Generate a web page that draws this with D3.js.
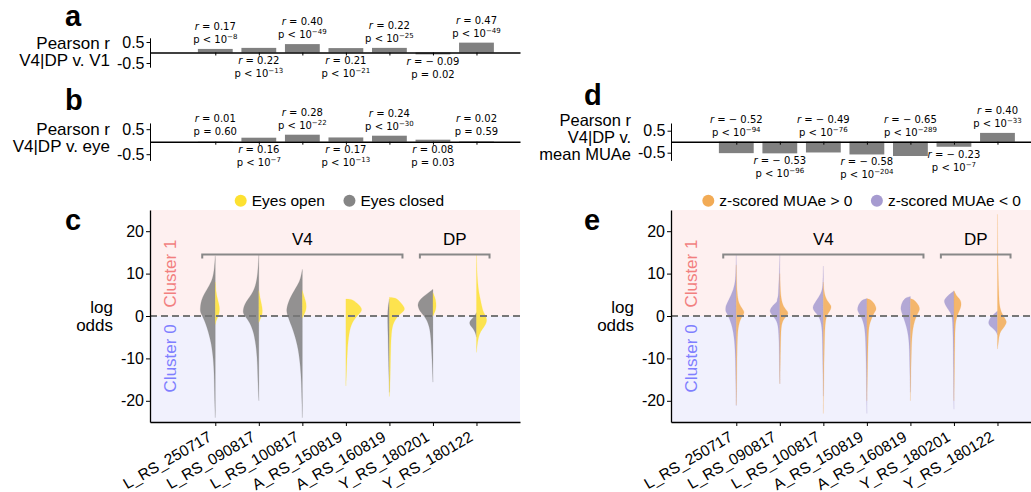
<!DOCTYPE html>
<html>
<head>
<meta charset="utf-8">
<script src="https://cdn.jsdelivr.net/npm/d3@7"></script>
<style>
body { margin: 0; background: #fff; }
svg text { font-family: "Liberation Sans", Arial, sans-serif; fill: #000; }
svg .barlab { font-family: "DejaVu Sans", sans-serif; font-size: 10px; }
</style>
</head>
<body>
<script>
// sessions on the x axis of every panel
var sessions = ["L_RS_250717", "L_RS_090817", "L_RS_100817", "A_RS_150819",
                "A_RS_160819", "Y_RS_180201", "Y_RS_180122"];

// Pearson r and p values for the three bar panels
var rV1  = [0.17, 0.22, 0.40, 0.21, 0.22, -0.09, 0.47];
var pV1  = ["<-8", "<-13", "<-49", "<-21", "<-25", "=0.02", "<-49"];
var rEye = [0.01, 0.16, 0.28, 0.17, 0.24, 0.08, 0.02];
var pEye = ["=0.60", "<-7", "<-22", "<-13", "<-30", "=0.03", "=0.59"];
var rMua = [-0.52, -0.53, -0.49, -0.58, -0.65, -0.23, 0.40];
var pMua = ["<-94", "<-96", "<-76", "<-204", "<-289", "<-7", "<-33"];

var barTicks = [0.5, -0.5];
var oddsTicks = [20, 10, 0, -10, -20];

// area groups shown with brackets
var areas = [{name: "V4", from: 0, to: 4}, {name: "DP", from: 5, to: 6}];

// violin halves: [log odds, relative density]
var eyesClosed = [
  [[14.2,0],[11,0.06],[9,0.16],[7.5,0.31],[4.3,0.86],[2,0.94],[1,0.94],[0.4,0.86],[-1.5,0.62],[-3.9,0.42],[-6.2,0.27],[-8.6,0.17],[-11.8,0.09],[-15.6,0.06],[-20,0.04],[-24,0]],
  [[14.5,0],[10,0.06],[7,0.2],[5.1,0.44],[2.8,0.92],[1.2,0.98],[0.8,0.98],[0,0.88],[-1.5,0.56],[-3.9,0.31],[-7.8,0.14],[-11.8,0.08],[-16.5,0.05],[-20,0]],
  [[11,0],[9,0.1],[7.5,0.25],[4.4,0.77],[2,0.98],[1,0.98],[0,0.92],[-2.4,0.67],[-4.7,0.46],[-7.8,0.25],[-11.8,0.12],[-15.6,0.06],[-20,0.03],[-24,0]],
  [],
  [[4,0],[2,0.09],[0,0.12],[-4,0.09],[-10,0.06],[-18,0]],
  [[6.3,0],[5.1,0.42],[3.9,0.83],[2.8,0.94],[2.4,0.94],[1.2,0.83],[0.8,0.73],[-0.4,0.46],[-2.4,0.21],[-5.5,0.12],[-8.6,0.08],[-11.8,0.04],[-15.6,0]],
  [[0.8,0],[0,0.12],[-0.8,0.31],[-1.5,0.46],[-2.3,0.38],[-3,0.19],[-4,0.06],[-5,0]]
];
var eyesOpen = [
  [[8,0],[5,0.06],[3,0.22],[1.5,0.29],[0,0.19],[-1,0.06],[-2,0]],
  [[6,0],[4,0.09],[2,0.22],[0.5,0.23],[-0.5,0.12],[-1.5,0]],
  [[6,0],[4.5,0.12],[3,0.25],[1.5,0.25],[0.5,0.12],[-0.5,0]],
  [[4,0],[3.95,0.44],[3,0.69],[2,0.98],[1.2,1.0],[0.3,0.78],[-1.5,0.37],[-4,0.19],[-8,0.09],[-12,0.05],[-16.5,0]],
  [[4.4,0],[4.35,0.4],[3.2,0.7],[2,0.96],[1.2,0.94],[0.4,0.62],[-1.5,0.23],[-3.9,0.12],[-7.8,0.08],[-11.8,0.06],[-16.5,0.04],[-19,0]],
  [[5.5,0],[4.5,0.12],[3,0.21],[1.5,0.19],[0.5,0.06],[0,0]],
  [[14.5,0],[7.5,0.06],[4.4,0.21],[2.4,0.33],[1.2,0.4],[0.4,0.52],[-0.8,0.67],[-2,0.58],[-3.1,0.36],[-4.3,0.17],[-6.2,0.06],[-8.6,0]]
];
var muaNeg = [
  [[14.5,0],[10,0.03],[7.5,0.08],[5.1,0.29],[2.8,0.61],[2,0.67],[1.2,0.67],[0.8,0.62],[-0.3,0.46],[-2.4,0.25],[-5.5,0.11],[-10.2,0.05],[-15.6,0.03],[-21.2,0]],
  [[14.5,0],[10,0.03],[6.7,0.08],[4.4,0.1],[3.9,0.18],[3.4,0.15],[2.8,0.36],[1.6,0.62],[0.8,0.62],[-0.3,0.36],[-1.5,0.14],[-3.9,0.06],[-10,0.03],[-16,0]],
  [[11.8,0],[8,0.03],[5.9,0.06],[3.9,0.38],[2.4,0.66],[1.6,0.65],[0.8,0.5],[-0.3,0.23],[-2.4,0.09],[-5.5,0.06],[-12,0.03],[-18.9,0]],
  [[4.1,0],[3.9,0.2],[3.5,0.39],[2.4,0.56],[1.4,0.6],[0.8,0.52],[-0.3,0.33],[-2.4,0.14],[-5.5,0.08],[-11.8,0.04],[-23,0]],
  [[4.6,0],[4.4,0.29],[3.2,0.54],[2,0.6],[1.6,0.6],[0.8,0.54],[-0.8,0.39],[-2.4,0.25],[-4.7,0.12],[-7.8,0.06],[-12,0.04],[-18,0]],
  [[5.9,0],[4.7,0.42],[3.9,0.58],[3.5,0.62],[2.4,0.52],[0.8,0.21],[-0.3,0.1],[-3.9,0.06],[-12,0.03],[-22,0]],
  [[1.2,0],[0.4,0.23],[-0.8,0.54],[-2,0.58],[-2.8,0.33],[-3.6,0.09],[-4.5,0]]
];
var muaPos = [
  [[12,0],[5,0.04],[2.8,0.17],[1.5,0.42],[0.8,0.52],[0,0.38],[-1.5,0.17],[-3.9,0.08],[-7.8,0.05],[-15,0.03],[-21,0]],
  [[10,0],[4,0.05],[2,0.25],[1.2,0.48],[0.4,0.54],[-0.3,0.33],[-1.5,0.12],[-3.9,0.06],[-10,0.03],[-16,0]],
  [[8,0],[5,0.06],[3.5,0.25],[2.4,0.52],[1.6,0.46],[0.9,0.36],[0.4,0.25],[-0.8,0.14],[-3.9,0.08],[-11.8,0.04],[-23,0]],
  [[4.1,0],[3.9,0.25],[3.1,0.44],[1.6,0.64],[0.8,0.44],[-0.8,0.27],[-2.4,0.12],[-5.5,0.08],[-12,0.04],[-20,0]],
  [[4.1,0],[3.9,0.2],[3.2,0.38],[2.4,0.54],[1.6,0.58],[1.2,0.54],[0,0.38],[-1.5,0.23],[-3.9,0.11],[-7.8,0.06],[-14,0.03],[-20,0]],
  [[6,0],[4.4,0.21],[3.9,0.42],[2.4,0.48],[0.9,0.3],[-0.8,0.11],[-3.9,0.06],[-12,0.03],[-20,0]],
  [[24,0],[14,0.02],[5.1,0.08],[2.4,0.13],[1.6,0.19],[0.8,0.25],[-0.8,0.5],[-1.5,0.6],[-2.8,0.39],[-3.9,0.12],[-6.2,0.06],[-7.8,0]]
];

var svg = d3.select("body").append("svg")
    .attr("width", 1031)
    .attr("height", 492);

var hyphen = function(d){ return String(d).replace("\u2212", "-"); };

// panel letter
function letter(ch, x, y){
    svg.append("text").attr("x", x).attr("y", y)
        .style("font-size", "29px").style("font-weight", "bold")
        .text(ch);
}

// right aligned multi-line axis title
function sideTitle(lines, x, y0, step, size){
    lines.forEach(function(s, i){
        svg.append("text").attr("x", x).attr("y", y0 + i*step)
            .attr("text-anchor", "end").style("font-size", (size || 17) + "px").text(s);
    });
}

function barPanel(o){
    var x = d3.scaleLinear().domain([-1.5, 7]).range([o.left, o.left + 370]);
    var y = d3.scaleLinear().domain([-o.ext, o.ext])
        .range([o.zero + o.ext*o.unit, o.zero - o.ext*o.unit]);
    var g = svg.append("g");

    g.selectAll(".bar").data(o.r).enter().append("rect")
        .attr("class", "bar")
        .attr("x", function(d, i){ return x(i - 0.4); })
        .attr("width", x(0.4) - x(-0.4))
        .attr("y", function(d){ return y(Math.max(d, 0)); })
        .attr("height", function(d){ return Math.abs(y(d) - y(0)); })
        .style("fill", "#808080");

    // zero line with category ticks
    var xa = g.append("g").attr("transform", "translate(0," + y(0) + ")")
        .call(d3.axisBottom(x).tickValues(d3.range(sessions.length))
            .tickSize(3).tickSizeOuter(0).tickFormat(""));
    xa.select(".domain").style("stroke-width", 1.4);

    var ya = g.append("g").attr("transform", "translate(" + o.left + ",0)")
        .call(d3.axisLeft(y).tickValues(barTicks).tickSize(3.5).tickSizeOuter(0)
            .tickPadding(2).tickFormat(function(d){ return hyphen(d3.format(".1f")(d)); }));
    ya.selectAll("text").style("font-size", "16px");

    // r / p annotations, alternating above and below
    o.r.forEach(function(d, i){
        var above = i % 2 === 0, rb, pb;
        if (above) { pb = y(Math.max(d, 0)) - 6; rb = pb - 13; }
        else { rb = y(Math.min(d, 0)) + 11; pb = rb + 13; }
        var t1 = g.append("text").attr("class", "barlab")
            .attr("x", x(i)).attr("y", rb).attr("text-anchor", "middle");
        t1.append("tspan").style("font-style", "italic").text("r");
        t1.append("tspan").text(" = " + (d < 0 ? "\u2212 " + d3.format(".2f")(-d) : d3.format(".2f")(d)));
        var p = o.p[i];
        var t2 = g.append("text").attr("class", "barlab")
            .attr("x", x(i)).attr("y", pb).attr("text-anchor", "middle");
        if (p[0] === "<") {
            t2.append("tspan").text("p < 10");
            t2.append("tspan").attr("dy", -4).style("font-size", "7px")
                .text("\u2212" + p.slice(2));
        } else {
            t2.text("p = " + p.slice(1));
        }
    });
}

function violinPanel(o){
    var x = d3.scaleLinear().domain([-1.5, 7]).range([o.left, o.left + 370]);
    var y = d3.scaleLinear().domain([-25, 25]).range([422, 210]);
    var w = d3.scaleLinear().domain([0, 1]).range([0, 16]);
    var g = svg.append("g");

    g.append("rect").attr("x", x(-1.5)).attr("width", x(7) - x(-1.5))
        .attr("y", y(25)).attr("height", y(0) - y(25)).style("fill", "#fef0f0");
    g.append("rect").attr("x", x(-1.5)).attr("width", x(7) - x(-1.5))
        .attr("y", y(0)).attr("height", y(-25) - y(0)).style("fill", "#f1f1fd");

    g.append("text").attr("transform", "translate(" + (o.left + 20.5) + "," + y(10) + ") rotate(-90)")
        .attr("text-anchor", "middle").attr("dominant-baseline", "central")
        .style("font-size", "17px").style("fill", "#f27f7f").text("Cluster 1");
    g.append("text").attr("transform", "translate(" + (o.left + 20.5) + "," + y(-10) + ") rotate(-90)")
        .attr("text-anchor", "middle").attr("dominant-baseline", "central")
        .style("font-size", "17px").style("fill", "#7f7fff").text("Cluster 0");

    // split violins
    sessions.forEach(function(s, i){
        var cx = x(i);
        [[o.leftData[i], -1, o.leftColor], [o.rightData[i], 1, o.rightColor]].forEach(function(h){
            if (!h[0].length) return;
            var area = d3.area().curve(d3.curveBasis)
                .y(function(d){ return y(d[0]); })
                .x0(cx)
                .x1(function(d){ return cx + h[1]*w(d[1]); });
            g.append("path").attr("d", area(h[0]))
                .style("fill", h[2]).style("fill-opacity", 0.85)
                .style("stroke", h[2]).style("stroke-width", 0.35).style("stroke-opacity", 0.5);
        });
    });

    g.append("line").attr("x1", x(-1.5)).attr("x2", x(7)).attr("y1", y(0)).attr("y2", y(0))
        .style("stroke", "#777").style("stroke-width", 2).style("stroke-dasharray", "7,4");

    // area brackets
    areas.forEach(function(a){
        var x0 = x(a.from - 0.3), x1 = x(a.to + 0.3), yb = y(14.5);
        g.append("path").attr("d", "M" + x0 + "," + (yb + 4) + "V" + yb + "H" + x1 + "V" + (yb + 4))
            .style("fill", "none").style("stroke", "#888").style("stroke-width", 2);
        g.append("text").attr("x", (x0 + x1)/2).attr("y", yb - 9.5)
            .attr("text-anchor", "middle").style("font-size", "17px").text(a.name);
    });

    var ya = g.append("g").attr("transform", "translate(" + o.left + ",0)")
        .call(d3.axisLeft(y).tickValues(oddsTicks).tickSize(4).tickSizeOuter(0)
            .tickPadding(2).tickFormat(function(d){ return hyphen(d3.format("d")(d)); }));
    ya.selectAll("text").style("font-size", "16px");
    ya.select(".domain").style("stroke-width", 1.3);

    var xa = g.append("g").attr("transform", "translate(0," + y(-25) + ")")
        .call(d3.axisBottom(x).tickValues(d3.range(sessions.length)).tickSize(4)
            .tickSizeOuter(0).tickFormat(function(d){ return sessions[d]; }));
    xa.select(".domain").style("stroke-width", 1.3);
    xa.selectAll("text")
        .attr("y", 0).attr("dy", 0)
        .attr("transform", "translate(-3,18) rotate(-30)")
        .attr("text-anchor", "end")
        .style("font-size", "15.5px");

    sideTitle(["log", "odds"], o.left - 37, 313, 17.5);

    // legend
    var lx = o.left + o.legendX;
    o.legend.forEach(function(item){
        g.append("circle").attr("cx", lx).attr("cy", 200.7).attr("r", 6).style("fill", item[1]);
        var t = g.append("text").attr("x", lx + 11).attr("y", 206.3)
            .style("font-size", "15.5px").text(item[0]);
        lx = lx + 11 + t.node().getComputedTextLength() + 24.5;
    });
}

letter("a", 65, 26);
sideTitle(["Pearson r", "V4|DP v. V1"], 110, 49, 17);
barPanel({left: 150, zero: 52.5, unit: 21, ext: 0.7, r: rV1, p: pV1});

letter("b", 65, 110);
sideTitle(["Pearson r", "V4|DP v. eye"], 110, 135, 17);
barPanel({left: 150, zero: 141.7, unit: 25, ext: 0.75, r: rEye, p: pEye});

letter("d", 584, 105);
sideTitle(["Pearson r", "V4|DP v.", "mean MUAe"], 631, 126, 17, 16.5);
barPanel({left: 671, zero: 141.7, unit: 22, ext: 0.85, r: rMua, p: pMua});

letter("c", 65, 230);
violinPanel({left: 150, leftData: eyesClosed, rightData: eyesOpen,
    leftColor: "#808080", rightColor: "#fde131", legendX: 90.7,
    legend: [["Eyes open", "#fde131"], ["Eyes closed", "#858585"]]});

letter("e", 584, 230);
violinPanel({left: 671, leftData: muaNeg, rightData: muaPos,
    leftColor: "#a69bd0", rightColor: "#f2ab55", legendX: 37.3,
    legend: [["z-scored MUAe > 0", "#f2ab55"], ["z-scored MUAe < 0", "#a69bd0"]]});
</script>
</body>
</html>
